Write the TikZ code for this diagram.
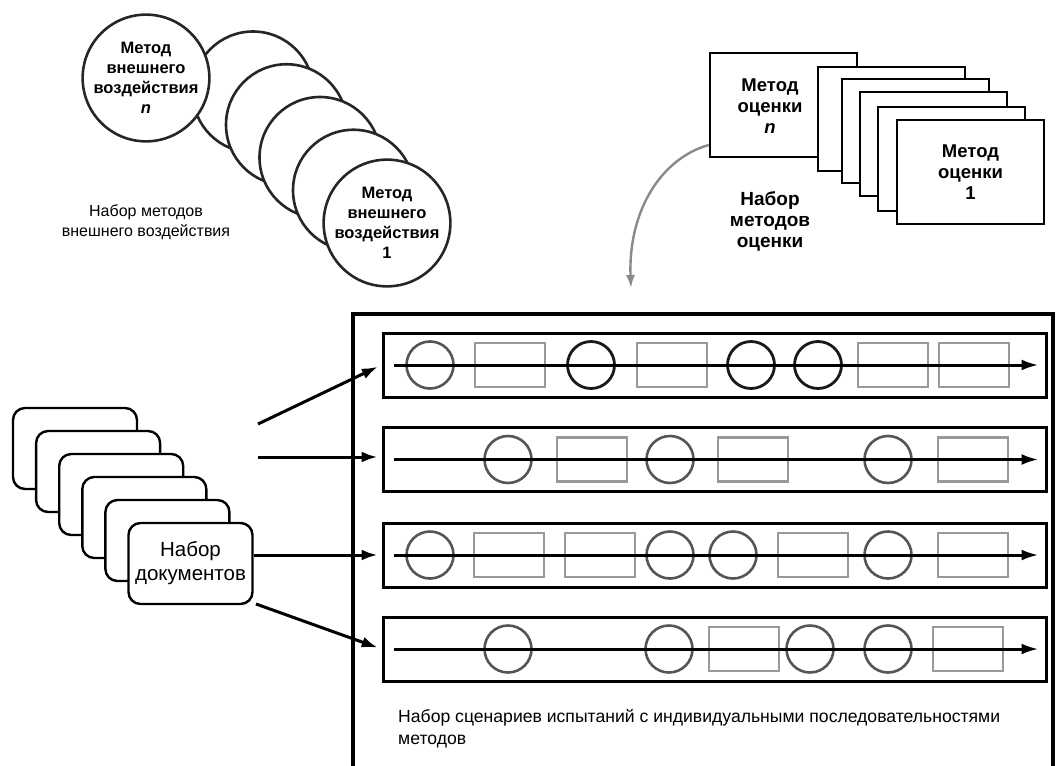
\documentclass[tikz,border=0pt]{standalone}
\usepackage{fontspec}
\setmainfont{Liberation Sans}
\usetikzlibrary{arrows.meta}
\definecolor{seqgray}{HTML}{555555}
\definecolor{boxgray}{HTML}{999999}
\definecolor{curvegray}{HTML}{8A8A8A}
\begin{document}
\begin{tikzpicture}[x=1pt,y=-1pt,
  extc/.style={circle,draw=black!85,line width=2.6pt,fill=white,minimum size=121pt,inner sep=0pt,align=center,
    font=\fontsize{16.5}{20}\selectfont\bfseries},
  evalr/.style={rectangle,draw=black,line width=2.4pt,fill=white,minimum width=147pt,minimum height=104pt,inner sep=0pt,align=center,
    font=\fontsize{18.5}{21}\selectfont\bfseries},
  docbox/.style={rectangle,rounded corners=12pt,draw=black,line width=2.4pt,fill=white,minimum width=124pt,minimum height=81pt,inner sep=0pt,align=center,
    font=\fontsize{20.5}{24}\selectfont},
  rowbox/.style={rectangle,draw=black,line width=3pt,minimum width=663pt,minimum height=64pt,inner sep=0pt},
  seqG/.style={circle,draw=seqgray,line width=2.6pt,minimum size=47pt,inner sep=0pt},
  seqK/.style={circle,draw=black!90,line width=2.8pt,minimum size=47pt,inner sep=0pt},
  seqR/.style={rectangle,draw=boxgray,line width=2.6pt,minimum width=70pt,minimum height=44pt,inner sep=0pt},
  axisarrow/.style={line width=3pt,-{Latex[length=17pt,width=11pt]}},
  feed/.style={line width=3pt,-{Latex[length=16pt,width=11pt]},shorten >=4pt},
  lbl/.style={align=center,inner sep=0pt}]
\useasboundingbox (0,0) rectangle (1056,765);

% --- set of external-influence methods (circles)
\foreach \i in {0,...,3}{
  \node[extc] (ec\i) at ({253+33.5*\i},{92+32.75*\i}) {};
}
\node[extc] (econe) at (387,223) {Метод\\внешнего\\воздействия\\1};
\node[extc] (ecn) at (146,78) {Метод\\внешнего\\воздействия\\\textit{n}};
\node[lbl,font=\fontsize{16}{20}\selectfont] (extlabel) at (146,222) {Набор методов\\внешнего воздействия};

% --- set of evaluation methods (rectangles)
\node[evalr] (rn) at (783.5,105) {};
\node[lbl,font=\fontsize{18.5}{21}\selectfont\bfseries] (rntext) at (770,106) {Метод\\оценки\\\textit{n}};
\node[evalr] (r2) at (891.5,119) {};
\node[evalr] (r3) at (915.5,131) {};
\node[evalr] (r4) at (933.5,144) {};
\node[evalr] (r5) at (951.5,159) {};
\node[evalr] (rone) at (970.5,172) {Метод\\оценки\\1};
\node[lbl,font=\fontsize{19}{21}\selectfont\bfseries] (evallabel) at (770,221) {Набор\\методов\\оценки};

% curved grey arrow
\coordinate (curveend) at (631,288);
\draw[curvegray,line width=2.4pt,-{Latex[length=13pt,width=9pt]}]
  ([yshift=-40pt]rn.west) .. controls (662,158) and (628,210) .. (curveend);

% --- set of documents
\foreach \i in {1,...,5}{
  \node[docbox] (d\i) at ({75+23.1*(\i-1)},{448.5+23*(\i-1)}) {};
}
\node[docbox] (d6) at (190.5,563.5) {Набор\\документов};

% --- big frame of test scenarios
\coordinate (fbl) at (353,766);
\coordinate (ftl) at (353,314);
\coordinate (ftr) at (1053,314);
\coordinate (fbr) at (1053,766);
\draw[line width=3.4pt] (fbl) -- (ftl) -- (ftr) -- (fbr);

\node[rowbox] (row1) at (714.5,365) {};
\node[rowbox] (row2) at (714.5,459.5) {};
\node[rowbox] (row3) at (714.5,555) {};
\node[rowbox] (row4) at (714.5,649) {};

\foreach \t/\x [count=\k] in {G/430,R/510,K/591,R/672,K/751,K/818,R/893,R/974}
  \node[seq\t] (sa\k) at (\x,365) {};
\foreach \t/\x [count=\k] in {G/508,R/592,G/670,R/753,G/888,R/973}
  \node[seq\t] (sb\k) at (\x,459.5) {};
\foreach \t/\x [count=\k] in {G/430,R/509,R/600,G/670,G/733,R/813,G/888,R/973}
  \node[seq\t] (sc\k) at (\x,555) {};
\foreach \t/\x [count=\k] in {G/508,G/669,R/744,G/810,G/888,R/968}
  \node[seq\t] (sd\k) at (\x,649) {};

\foreach \r in {1,...,4}
  \draw[axisarrow] ([xshift=12pt]row\r.west) -- ([xshift=-9pt]row\r.east);

\node[lbl,align=left,anchor=west,font=\fontsize{17.6}{22}\selectfont] (scenlabel) at (398,729)
  {Набор сценариев испытаний с индивидуальными последовательностями\\методов};

% --- feeds from documents to scenarios
\coordinate (fa) at (258,424);
\coordinate (fb) at (258,457);
\coordinate (fd) at (256,604);
\draw[feed] (fa) -- (row1.west);
\draw[feed] (fb) -- (fb -| row2.west);
\draw[feed] (d6.east |- row3.west) -- (row3.west);
\draw[feed] (fd) -- (row4.west);
\end{tikzpicture}
\end{document}
